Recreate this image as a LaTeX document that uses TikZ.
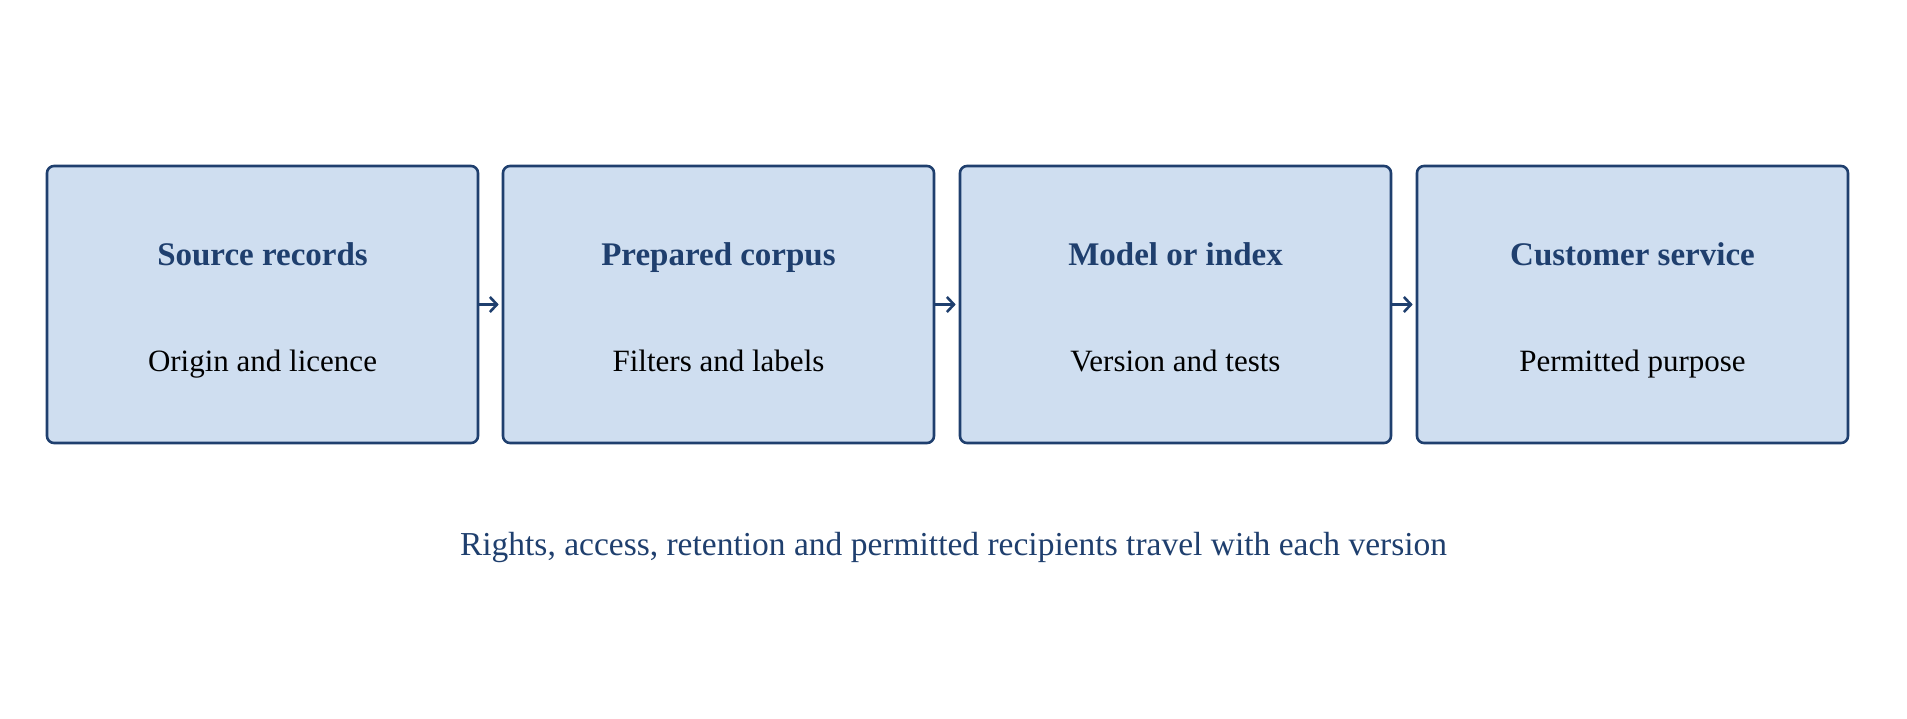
\documentclass[tikz,border=0pt]{standalone}
\usepackage{fontspec}
\setmainfont{Liberation Serif}
\usetikzlibrary{arrows.meta}
\definecolor{navy}{RGB}{31,63,110}
\definecolor{boxfill}{RGB}{207,222,240}
\tikzset{
  stagebox/.style={draw=navy, fill=boxfill, line width=2.6pt, rounded corners=7pt, minimum width=431pt, minimum height=277pt, inner sep=0pt},
  title/.style={font=\fontsize{33}{38}\selectfont\bfseries, text=navy, anchor=base, inner sep=0pt},
  sub/.style={font=\fontsize{31}{36}\selectfont, text=black, anchor=base, inner sep=0pt},
  flow/.style={draw=navy, line width=2.6pt, -{Straight Barb[length=7pt,width=15pt,line width=2.6pt]}, shorten >=3pt},
  caption/.style={font=\fontsize{33.5}{38}\selectfont, text=navy, anchor=base, inner sep=0pt}
}
\begin{document}
\begin{tikzpicture}[x=1pt,y=1pt]
\useasboundingbox (0,0) rectangle (1907,-719);
\node[stagebox] (b1) at (262.5,-304.5) {};
\node[stagebox] (b2) at (718.5,-304.5) {};
\node[stagebox] (b3) at (1175.5,-304.5) {};
\node[stagebox] (b4) at (1632.5,-304.5) {};
\node[title] (t1) at (262.5,-266) {Source records};
\node[title] (t2) at (718.5,-266) {Prepared corpus};
\node[title] (t3) at (1175.5,-266) {Model or index};
\node[title] (t4) at (1632.5,-266) {Customer service};
\node[sub] (s1) at (262.5,-372) {Origin and licence};
\node[sub] (s2) at (718.5,-372) {Filters and labels};
\node[sub] (s3) at (1175.5,-372) {Version and tests};
\node[sub] (s4) at (1632.5,-372) {Permitted purpose};
\draw[flow] (b1.east) -- (b2.west);
\draw[flow] (b2.east) -- (b3.west);
\draw[flow] (b3.east) -- (b4.west);
\node[caption] (cap) at (953.5,-555) {Rights, access, retention and permitted recipients travel with each version};
\end{tikzpicture}
\end{document}
